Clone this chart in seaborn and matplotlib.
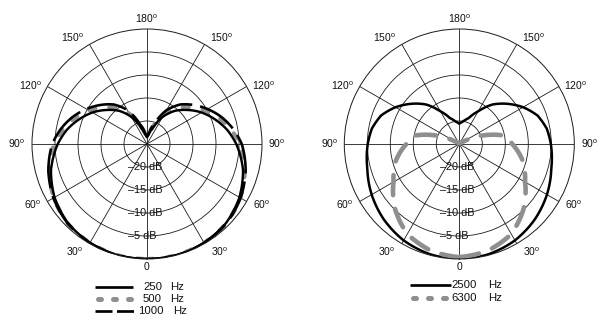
import numpy as np
import matplotlib
matplotlib.use("Agg")
import matplotlib.pyplot as plt
from matplotlib.lines import Line2D
from matplotlib import transforms as mtransforms
import seaborn as sns

# ---------------- data (dB relative to on-axis, angle in degrees) ----------------
angles_deg = [0, 15, 30, 45, 60, 75, 90, 100, 110, 120, 130, 140, 150, 160, 170, 180,
              190, 200, 210, 220, 230, 240, 250, 260, 270, 285, 300, 315, 330, 345, 360]

db_250 = [0, 0, -0.2, -0.7, -1.8, -3.4, -5.6, -7.3, -9.3, -11.3, -13.5, -15.6, -18.2, -21.3, -23.0, -23.5,
          -23.0, -21.3, -18.2, -15.6, -13.5, -11.3, -9.3, -7.3, -5.6, -3.4, -1.8, -0.7, -0.2, 0, 0]
db_500 = [0, 0, -0.2, -0.6, -1.6, -3.0, -4.8, -6.5, -8.4, -10.4, -12.6, -14.8, -17.5, -20.8, -22.8, -23.5,
          -22.8, -20.8, -17.5, -14.8, -12.6, -10.4, -8.4, -6.5, -4.8, -3.0, -1.6, -0.6, -0.2, 0, 0]
db_1000 = [0, 0, -0.2, -0.6, -1.5, -2.8, -4.4, -6.0, -7.8, -9.8, -11.8, -13.8, -16.5, -20.3, -22.6, -23.5,
           -22.6, -20.3, -16.5, -13.8, -11.8, -9.8, -7.8, -6.0, -4.4, -2.8, -1.5, -0.6, -0.2, 0, 0]
db_2500 = [0, -0.2, -0.8, -1.8, -3.0, -4.3, -5.1, -5.7, -6.9, -9.0, -11.4, -13.8, -16.8, -19.0, -20.0, -20.6,
           -20.0, -19.0, -16.8, -13.8, -11.4, -9.0, -6.9, -5.7, -5.1, -4.3, -3.0, -1.8, -0.8, -0.2, 0]
db_6300 = [-0.4, -1.0, -2.4, -5.2, -8.5, -10.7, -13.5, -14.8, -19.6, -23.8, -24.6, -24.8, -24.8, -24.8, -24.8, -24.8,
           -24.8, -24.8, -24.8, -24.8, -24.6, -23.8, -19.6, -14.8, -13.5, -10.7, -8.5, -5.2, -2.4, -1.0, -0.4]

ring_levels = [-20, -15, -10, -5]
ring_labels = ["\u201320 dB", "\u201315 dB", "\u201310 dB", "\u20135 dB"]
angle_ticks = [30, 60, 90, 120, 150]
legend_left = ["250", "500", "1000"]
legend_right = ["2500", "6300"]

# ---------------- style ----------------
sns.set_theme(style="white")
plt.rcParams["font.family"] = ["Liberation Sans", "DejaVu Sans"]
plt.rcParams["mathtext.fontset"] = "custom"
plt.rcParams["mathtext.rm"] = "Liberation Sans"
plt.rcParams["lines.scale_dashes"] = False

GRAY = "#8f8f8f"
W, H = 612, 332
fig = plt.figure(figsize=(W / 100, H / 100), dpi=100)
fig.patch.set_facecolor("white")

R = 115.0  # outer radius px


def make_axes(cx, cy):
    ax = fig.add_axes([(cx - R) / W, (H - cy - R) / H, 2 * R / W, 2 * R / H], projection="polar")
    ax.set_theta_zero_location("S")
    ax.set_ylim(-25, 0)
    ax.set_xticks(np.deg2rad(np.arange(0, 360, 30)))
    ax.set_xticklabels([])
    ax.set_yticks(ring_levels)
    ax.set_yticklabels([])
    ax.grid(True, color="#1a1a1a", lw=0.6)
    ax.set_axisbelow(True)
    ax.spines["polar"].set_color("#1a1a1a")
    ax.spines["polar"].set_linewidth(0.7)
    ax.set_facecolor("white")
    # dB ring labels
    tr = mtransforms.offset_copy(ax.transData, fig=fig, x=-19, y=0, units="dots")
    for lv, lab in zip(ring_levels, ring_labels):
        ax.text(0, lv, lab, transform=tr, ha="left", va="center", fontsize=7.8, color="#111")
    # angle labels
    r_lab = -25 + 130 / R * 25
    pos = {30: 34, 60: 62, 90: 90, 120: 116.5, 150: 145}
    for a in angle_ticks:
        lab = r"%d$^{\mathrm{o}}$" % a
        for th in (pos[a], 360 - pos[a]):
            ax.text(np.deg2rad(th), r_lab, lab, ha="center", va="center", fontsize=7.5, color="#111")
    ax.text(0, -25 + 123 / R * 25, "0", ha="center", va="center", fontsize=7.5, color="#111")
    ax.text(np.pi, -25 + 125 / R * 25, r"180$^{\mathrm{o}}$", ha="center", va="center",
            fontsize=7.5, color="#111")
    return ax


theta = np.deg2rad(angles_deg)

axL = make_axes(147, 144)
axR = make_axes(459.3, 144)

px = 0.72  # points per pixel


def draw(ax, vals, **kw):
    sns.lineplot(x=theta, y=vals, ax=ax, sort=False, estimator=None, **kw)
    line = ax.lines[-1]
    # draw each segment as a smooth polar curve (theta/r interpolation at render time)
    line.get_path()._interpolation_steps = 40


# left chart
draw(axL, db_500, color=GRAY, lw=4.2 * px, linestyle=(0, (6 * px, 14 * px)), dash_capstyle="round")
draw(axL, db_1000, color="black", lw=2.6 * px, linestyle=(0, (40 * px, 8 * px)), dash_capstyle="butt")
draw(axL, db_250, color="black", lw=2.4 * px)

# right chart
draw(axR, db_2500, color="black", lw=2.5 * px)
draw(axR, db_6300, color=GRAY, lw=4.6 * px, linestyle=(0, (20 * px, 14 * px)), dash_capstyle="round")

for ax in (axL, axR):
    ax.set_xlabel("")
    ax.set_ylabel("")
    ax.set_ylim(-25, 0)


# ---------------- manual legends ----------------
def fx(x):
    return x / W


def fy(y):
    return 1 - y / H


def leg_line(x0, x1, y, **kw):
    fig.add_artist(Line2D([fx(x0), fx(x1)], [fy(y), fy(y)], transform=fig.transFigure, **kw))


def leg_text(x, y, s):
    fig.text(fx(x), fy(y), s, ha="left", va="center", fontsize=8.2, color="#111")


solid_kw = dict(color="black", lw=2.7 * px, solid_capstyle="butt")
dots_kw = dict(color=GRAY, lw=5 * px, linestyle=(0, (3 * px, 12 * px)), dash_capstyle="round")
dash_kw = dict(color="black", lw=2.7 * px, linestyle=(0, (17 * px, 4.5 * px)), dash_capstyle="butt")

# left
leg_line(95, 133, 286.7, **solid_kw)
leg_line(97.5, 130.5, 299, **dots_kw)
leg_line(95, 134, 311.3, **dash_kw)
leg_text(143, 286.7, legend_left[0])
leg_text(170, 286.7, "Hz")
leg_text(143, 299, legend_left[1])
leg_text(170, 299, "Hz")
leg_text(138.5, 311.3, legend_left[2])
leg_text(173, 311.3, "Hz")

# right
leg_line(410, 451, 285, **solid_kw)
leg_line(412.5, 445.5, 298.3, **dots_kw)
leg_text(451.5, 285, legend_right[0])
leg_text(488, 285, "Hz")
leg_text(451.5, 298.3, legend_right[1])
leg_text(488, 298.3, "Hz")

fig.savefig("out.png", dpi=100, facecolor="white")
